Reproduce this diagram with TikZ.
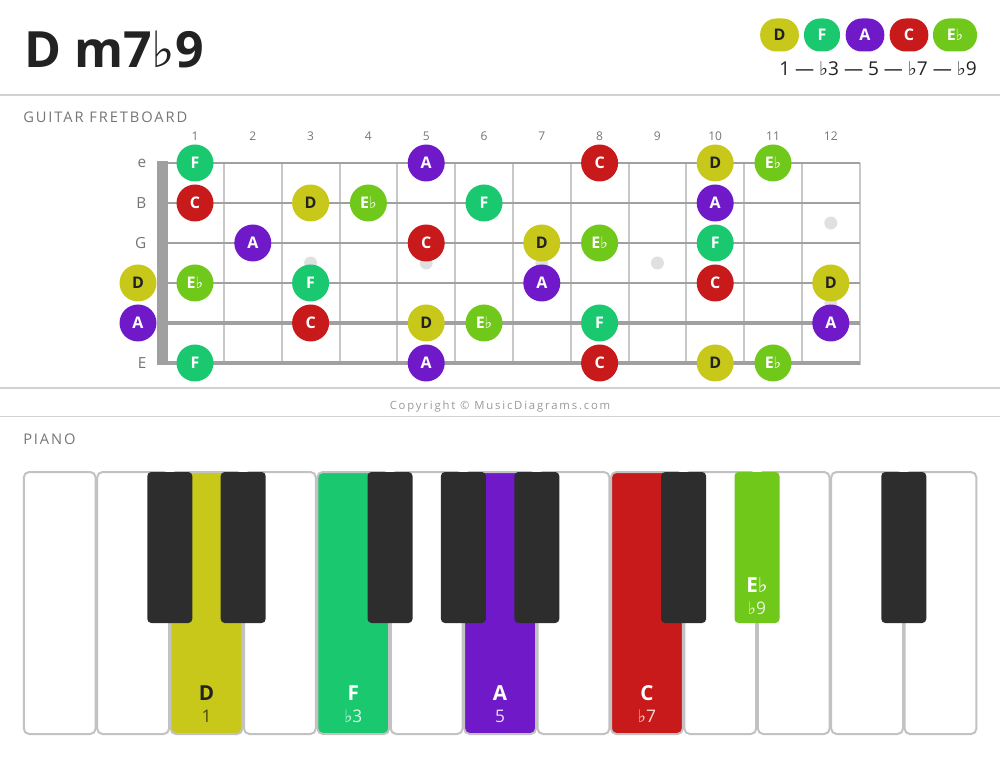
\documentclass[tikz,border=0pt]{standalone}
\usepackage{fontspec}
\setmainfont{Open Sans}
\newfontfamily\symfont{DejaVu Sans}
\newcommand{\flt}{{\symfont ♭}}
\definecolor{noteD}{HTML}{C8C81A}
\definecolor{noteF}{HTML}{1AC870}
\definecolor{noteA}{HTML}{7019C8}
\definecolor{noteC}{HTML}{C81A1A}
\definecolor{noteEb}{HTML}{6FC81A}
\definecolor{darktext}{HTML}{222222}
\definecolor{labelgray}{HTML}{757575}
\definecolor{rulegray}{HTML}{D2D2D2}
\definecolor{stringgray}{HTML}{A0A0A0}
\definecolor{fretgray}{HTML}{C8C8C8}
\definecolor{inlaygray}{HTML}{E0E0E0}
\definecolor{keyblack}{HTML}{2D2D2D}
\definecolor{keyedge}{HTML}{C2C2C2}

\begin{document}
\begin{tikzpicture}[x=0.75pt,y=0.75pt,yscale=-1,
  note/.style={circle,minimum size=27.75pt,inner sep=0pt,font=\fontsize{12}{12}\selectfont\bfseries,text=white},
  nD/.style={note,fill=noteD,text=darktext},
  nF/.style={note,fill=noteF},
  nA/.style={note,fill=noteA},
  nC/.style={note,fill=noteC},
  nEb/.style={note,fill=noteEb},
  pill/.style={rectangle,rounded corners=12pt,minimum height=24.75pt,minimum width=27pt,inner sep=0pt,font=\fontsize{12}{12}\selectfont\bfseries,text=white},
  fretnum/.style={font=\fontsize{9}{9}\selectfont,text=labelgray,anchor=base},
  strname/.style={font=\fontsize{11.5}{11.5}\selectfont,text=labelgray,anchor=east},
  section/.style={font=\fontsize{11}{11}\selectfont\addfontfeature{LetterSpace=13},text=labelgray,anchor=base west},
  wkey/.style={draw=keyedge,line width=1.5pt,rounded corners=4pt,fill=white},
  bkey/.style={fill=keyblack,rounded corners=3pt},
  keyname/.style={font=\fontsize{15.5}{15.5}\selectfont\bfseries,text=white,anchor=base},
  keyint/.style={font=\fontsize{13}{13}\selectfont,text=white!85!black,anchor=base}]
\useasboundingbox (0,0) rectangle (1000,759);

%Title
\node[anchor=base west,inner sep=0pt,font=\fontsize{37.5}{37.5}\selectfont\bfseries,text=darktext] (title) at (24,68) {D m7\flt9};

%Legend pills
\node[pill,fill=noteD,text=darktext,minimum width=29pt] (lgD) at (779.5,35) {D};
\node[pill,fill=noteF] (lgF) at (822,35) {F};
\node[pill,fill=noteA,minimum width=29pt] (lgA) at (865,35) {A};
\node[pill,fill=noteC,minimum width=29pt] (lgC) at (909,35) {C};
\node[pill,fill=noteEb,minimum width=33pt] (lgEb) at (955,35) {E\flt};
\node[anchor=base east,inner sep=0pt,font=\fontsize{14.3}{14.3}\selectfont,text=darktext] (intervals) at (977,76) {1 — \flt3 — 5 — \flt7 — \flt9};

%Rules
\draw[rulegray,line width=1.5pt] (0,95) -- (1000,95);
\draw[rulegray,line width=1.2pt] (0,388) -- (1000,388);
\draw[rulegray,line width=1.2pt] (0,416.5) -- (1000,416.5);

%Section labels
\node[section,inner sep=0pt] (secguitar) at (23,123) {GUITAR FRETBOARD};
\node[section,inner sep=0pt] (secpiano) at (23,445) {PIANO};
\node[anchor=base,inner sep=0pt,font=\fontsize{8.5}{8.5}\selectfont\addfontfeature{LetterSpace=16},text=black!40] (copy) at (500,410) {Copyright © MusicDiagrams.com};

%Fret numbers
\node[fretnum] (fn1) at (195,141) {1};
\node[fretnum] (fn2) at (252.8,141) {2};
\node[fretnum] (fn3) at (310.6,141) {3};
\node[fretnum] (fn4) at (368.4,141) {4};
\node[fretnum] (fn5) at (426.2,141) {5};
\node[fretnum] (fn6) at (484,141) {6};
\node[fretnum] (fn7) at (541.8,141) {7};
\node[fretnum] (fn8) at (599.6,141) {8};
\node[fretnum] (fn9) at (657.4,141) {9};
\node[fretnum] (fn10) at (715.2,141) {10};
\node[fretnum] (fn11) at (773,141) {11};
\node[fretnum] (fn12) at (830.8,141) {12};

%String names
\node[strname] (sn1) at (151,163) {e};
\node[strname] (sn2) at (151,203) {B};
\node[strname] (sn3) at (151,243) {G};
\node[strname] (sn4) at (151,283) {D};
\node[strname] (sn5) at (151,323) {A};
\node[strname] (sn6) at (151,363) {E};

%Fret wires
\draw[fretgray,line width=1.5pt] (224,163) -- (224,363);
\draw[fretgray,line width=1.5pt] (281.7,163) -- (281.7,363);
\draw[fretgray,line width=1.5pt] (339.5,163) -- (339.5,363);
\draw[fretgray,line width=1.5pt] (397.3,163) -- (397.3,363);
\draw[fretgray,line width=1.5pt] (455.1,163) -- (455.1,363);
\draw[fretgray,line width=1.5pt] (512.9,163) -- (512.9,363);
\draw[fretgray,line width=1.5pt] (570.7,163) -- (570.7,363);
\draw[fretgray,line width=1.5pt] (628.5,163) -- (628.5,363);
\draw[fretgray,line width=1.5pt] (686.3,163) -- (686.3,363);
\draw[fretgray,line width=1.5pt] (744.1,163) -- (744.1,363);
\draw[fretgray,line width=1.5pt] (801.9,163) -- (801.9,363);
\draw[fretgray,line width=1.5pt] (859.7,163) -- (859.7,365);

%Inlay dots
\fill[inlaygray] (310.6,263) circle (6.5);
\fill[inlaygray] (426.2,263) circle (6.5);
\fill[inlaygray] (541.8,263) circle (6.5);
\fill[inlaygray] (657.4,263) circle (6.5);
\fill[inlaygray] (830.8,223) circle (6.5);
\fill[inlaygray] (830.8,303) circle (6.5);

%Strings
\draw[stringgray,line width=2pt] (160,163) -- (860,163);
\draw[stringgray,line width=2pt] (160,203) -- (860,203);
\draw[stringgray,line width=2.1pt] (160,243) -- (860,243);
\draw[stringgray,line width=2.2pt] (160,283) -- (860,283);
\draw[stringgray,line width=2.3pt] (160,323) -- (860,323);
\draw[stringgray,line width=3pt] (160,363) -- (860,363);

%Nut
\fill[stringgray] (157,161) rectangle (167.5,365);

%Notes, e string
\node[nF] (e1) at (195,163) {F};
\node[nA] (e5) at (426.2,163) {A};
\node[nC] (e8) at (599.6,163) {C};
\node[nD] (e10) at (715.2,163) {D};
\node[nEb] (e11) at (773,163) {E\flt};

%Notes, B string
\node[nC] (b1) at (195,203) {C};
\node[nD] (b3) at (310.6,203) {D};
\node[nEb] (b4) at (368.4,203) {E\flt};
\node[nF] (b6) at (484,203) {F};
\node[nA] (b10) at (715.2,203) {A};

%Notes, G string
\node[nA] (g2) at (252.8,243) {A};
\node[nC] (g5) at (426.2,243) {C};
\node[nD] (g7) at (541.8,243) {D};
\node[nEb] (g8) at (599.6,243) {E\flt};
\node[nF] (g10) at (715.2,243) {F};

%Notes, D string
\node[nD] (d0) at (138,283) {D};
\node[nEb] (d1) at (195,283) {E\flt};
\node[nF] (d3) at (310.6,283) {F};
\node[nA] (d7) at (541.8,283) {A};
\node[nC] (d10) at (715.2,283) {C};
\node[nD] (d12) at (830.8,283) {D};

%Notes, A string
\node[nA] (a0) at (138,323) {A};
\node[nC] (a3) at (310.6,323) {C};
\node[nD] (a5) at (426.2,323) {D};
\node[nEb] (a6) at (484,323) {E\flt};
\node[nF] (a8) at (599.6,323) {F};
\node[nA] (a12) at (830.8,323) {A};

%Notes, low E string
\node[nF] (le1) at (195,363) {F};
\node[nA] (le5) at (426.2,363) {A};
\node[nC] (le8) at (599.6,363) {C};
\node[nD] (le10) at (715.2,363) {D};
\node[nEb] (le11) at (773,363) {E\flt};

%Piano white keys
\draw[wkey] (23.8,472) rectangle (95.6,734);
\draw[wkey] (97.2,472) rectangle (169,734);
\draw[wkey,fill=noteD] (170.6,472) rectangle (242.4,734);
\draw[wkey] (244,472) rectangle (315.8,734);
\draw[wkey,fill=noteF] (317.4,472) rectangle (389.2,734);
\draw[wkey] (390.8,472) rectangle (462.6,734);
\draw[wkey,fill=noteA] (464.2,472) rectangle (536,734);
\draw[wkey] (537.6,472) rectangle (609.4,734);
\draw[wkey,fill=noteC] (611,472) rectangle (682.8,734);
\draw[wkey] (684.4,472) rectangle (756.2,734);
\draw[wkey] (757.8,472) rectangle (829.6,734);
\draw[wkey] (831.2,472) rectangle (903,734);
\draw[wkey] (904.6,472) rectangle (976.4,734);

%Piano black keys
\fill[bkey] (147.3,472) rectangle (192.3,623);
\fill[bkey] (220.7,472) rectangle (265.7,623);
\fill[bkey] (367.5,472) rectangle (412.5,623);
\fill[bkey] (440.9,472) rectangle (485.9,623);
\fill[bkey] (514.3,472) rectangle (559.3,623);
\fill[bkey] (661.1,472) rectangle (706.1,623);
\fill[bkey,fill=noteEb] (734.5,472) rectangle (779.5,623);
\fill[bkey] (881.3,472) rectangle (926.3,623);

%Key labels
\node[keyname,text=darktext] (kD) at (206.5,700) {D};
\node[keyint,text=black!65!noteD] (kDi) at (206.5,722) {1};
\node[keyname] (kF) at (353.3,700) {F};
\node[keyint,text=white!85!noteF] (kFi) at (353.3,722) {\flt3};
\node[keyname] (kA) at (500.1,700) {A};
\node[keyint,text=white!85!noteA] (kAi) at (500.1,722) {5};
\node[keyname] (kC) at (646.9,700) {C};
\node[keyint,text=white!85!noteC] (kCi) at (646.9,722) {\flt7};
\node[keyname] (kEb) at (757,592) {E\flt};
\node[keyint,text=white!85!noteEb] (kEbi) at (757,614) {\flt9};

\end{tikzpicture}
\end{document}
